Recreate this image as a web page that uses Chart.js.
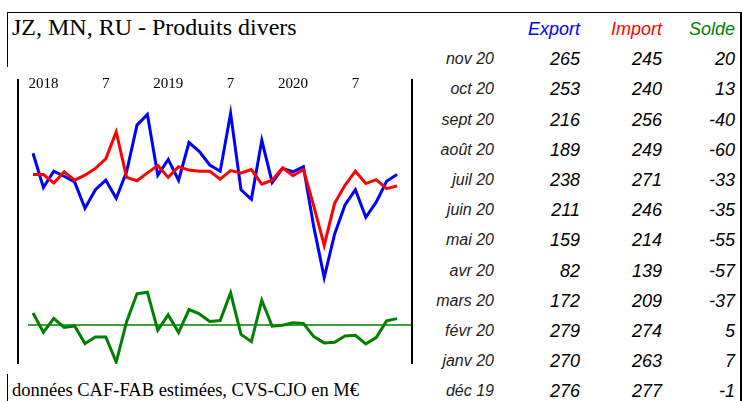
<!DOCTYPE html>
<html>
<head>
<meta charset="utf-8">
<script src="https://cdn.jsdelivr.net/npm/chart.js@4.4.0/dist/chart.umd.min.js"></script>
<style>
    body { margin: 0; background: #fff; width: 743px; height: 401px; overflow: hidden; position: relative; }
    .trait { position: absolute; background: #000; }
    #titre { position: absolute; left: 12px; top: 15px; font: 24px/24px "Liberation Serif", serif; color: #000; white-space: nowrap; }
    #note { position: absolute; left: 12px; top: 381px; font: 18.5px/18.5px "Liberation Serif", serif; color: #000; white-space: nowrap; }
    #zoneGraphique { position: absolute; left: 8px; top: 70px; width: 412px; height: 294px; }
    .cellule { position: absolute; height: 30.2px; line-height: 30.2px; text-align: right; font-family: "Liberation Sans", Arial, sans-serif; font-style: italic; white-space: nowrap; }
</style>
</head>
<body>
<div class="trait" style="left:7px; top:12px; width:735px; height:1px;"></div>
<div class="trait" style="left:7px; top:12px; width:1px; height:55px;"></div>
<div class="trait" style="left:740px; top:12px; width:2px; height:389px;"></div>
<div class="trait" style="left:7px; top:374px; width:1px; height:27px;"></div>
<div id="titre">JZ, MN, RU - Produits divers</div>
<div id="note">données CAF-FAB estimées, CVS-CJO en M€</div>
<div id="zoneGraphique"><canvas id="graphique" width="412" height="294"></canvas></div>
<div id="tableau"></div>

<script>
var mois = ['déc 17', 'janv 18', 'févr 18', 'mars 18', 'avr 18', 'mai 18', 'juin 18', 'juil 18', 'août 18', 'sept 18', 'oct 18', 'nov 18',
    'déc 18', 'janv 19', 'févr 19', 'mars 19', 'avr 19', 'mai 19', 'juin 19', 'juil 19', 'août 19', 'sept 19', 'oct 19', 'nov 19',
    'déc 19', 'janv 20', 'févr 20', 'mars 20', 'avr 20', 'mai 20', 'juin 20', 'juil 20', 'août 20', 'sept 20', 'oct 20', 'nov 20'];

var reperes = { 'janv 18': '2018', 'juil 18': '7', 'janv 19': '2019', 'juil 19': '7', 'janv 20': '2020', 'juil 20': '7' };

var ValorExport = [303, 242, 271, 262, 252, 205, 238, 255, 223, 270, 353, 372,
    264, 292, 255, 322, 306, 282, 271, 374, 238, 221, 326, 251,
    276, 270, 279, 172, 82, 159, 211, 238, 189, 216, 253, 265];

var ValorImport = [265, 265, 250, 270, 255, 264, 276, 293, 341, 260, 254, 268,
    281, 260, 279, 273, 271, 271, 257, 272, 268, 274, 248, 255,
    277, 263, 274, 209, 139, 214, 246, 271, 249, 256, 240, 245];

var ValorSolde = [38, -23, 21, -8, -3, -59, -38, -38, -118, 10, 99, 104,
    -17, 32, -24, 49, 35, 11, 14, 102, -30, -53, 78, -4,
    -1, 7, 5, -37, -57, -55, -35, -33, -60, -40, 13, 20];

var couleurExport = '#0000ff';
var couleurImport = '#ff0000';
var couleurSolde = '#008000';

// cadre vertical + ligne du zero du solde
var cadre = {
    id: 'cadre',
    beforeDatasetsDraw: function (chart) {
        var ctx = chart.ctx;
        var zone = chart.chartArea;
        var y0 = chart.scales.y2.getPixelForValue(0);
        ctx.save();
        ctx.strokeStyle = couleurSolde;
        ctx.lineWidth = 1.5;
        ctx.beginPath();
        ctx.moveTo(zone.left - 5, y0);
        ctx.lineTo(zone.right + 15, y0);
        ctx.stroke();
        ctx.strokeStyle = '#000';
        ctx.lineWidth = 2;
        ctx.beginPath();
        ctx.moveTo(zone.left - 15, zone.top - 11);
        ctx.lineTo(zone.left - 15, zone.bottom);
        ctx.moveTo(zone.right + 15, zone.top - 11);
        ctx.lineTo(zone.right + 15, zone.bottom);
        ctx.stroke();
        ctx.restore();
    }
};

new Chart(document.getElementById('graphique'), {
    type: 'line',
    data: {
        labels: mois,
        datasets: [{
            label: 'Import',
            data: ValorImport,
            borderColor: couleurImport,
            borderWidth: 3,
            pointRadius: 0,
            yAxisID: 'y'
        }, {
            label: 'Export',
            data: ValorExport,
            borderColor: couleurExport,
            borderWidth: 3,
            pointRadius: 0,
            yAxisID: 'y'
        }, {
            label: 'Solde',
            data: ValorSolde,
            borderColor: couleurSolde,
            borderWidth: 3,
            pointRadius: 0,
            yAxisID: 'y2'
        }]
    },
    options: {
        responsive: false,
        animation: false,
        devicePixelRatio: 1,
        layout: { padding: { left: 25, right: 23, top: 0, bottom: 0 } },
        plugins: {
            legend: { display: false },
            tooltip: { enabled: false }
        },
        scales: {
            x: {
                position: 'top',
                grid: { display: false, drawTicks: false },
                border: { display: false },
                ticks: {
                    autoSkip: false,
                    maxRotation: 0,
                    padding: -3,
                    color: '#000',
                    font: { family: 'Liberation Serif', size: 15 },
                    callback: function (valeur, i) {
                        return reperes[mois[i]] || '';
                    }
                },
                afterFit: function (axe) {
                    axe.height = 20;
                }
            },
            y: { display: false, min: -71.8, max: 415.4 },
            y2: { display: false, min: -124, max: 746 }
        }
    },
    plugins: [cadre]
});

// tableau des 12 derniers mois
var tableau = document.getElementById('tableau');
var pas = 30.2;
var colonnes = [
    { droite: 494, taille: 16 },
    { droite: 580, taille: 18 },
    { droite: 662, taille: 18 },
    { droite: 735, taille: 18 }
];

function cellule(texte, col, ligne, couleur) {
    var d = document.createElement('div');
    d.className = 'cellule';
    d.textContent = texte;
    d.style.right = (743 - colonnes[col].droite) + 'px';
    d.style.top = (13.9 + pas * ligne) + 'px';
    d.style.fontSize = colonnes[col].taille + 'px';
    d.style.color = couleur;
    tableau.appendChild(d);
}

cellule('Export', 1, 0, couleurExport);
cellule('Import', 2, 0, couleurImport);
cellule('Solde', 3, 0, couleurSolde);

for (var i = 0; i < 12; i++) {
    var k = mois.length - 1 - i;
    cellule(mois[k], 0, i + 1, '#222');
    cellule(ValorExport[k], 1, i + 1, '#000');
    cellule(ValorImport[k], 2, i + 1, '#000');
    cellule(ValorSolde[k], 3, i + 1, '#000');
}
</script>
</body>
</html>
